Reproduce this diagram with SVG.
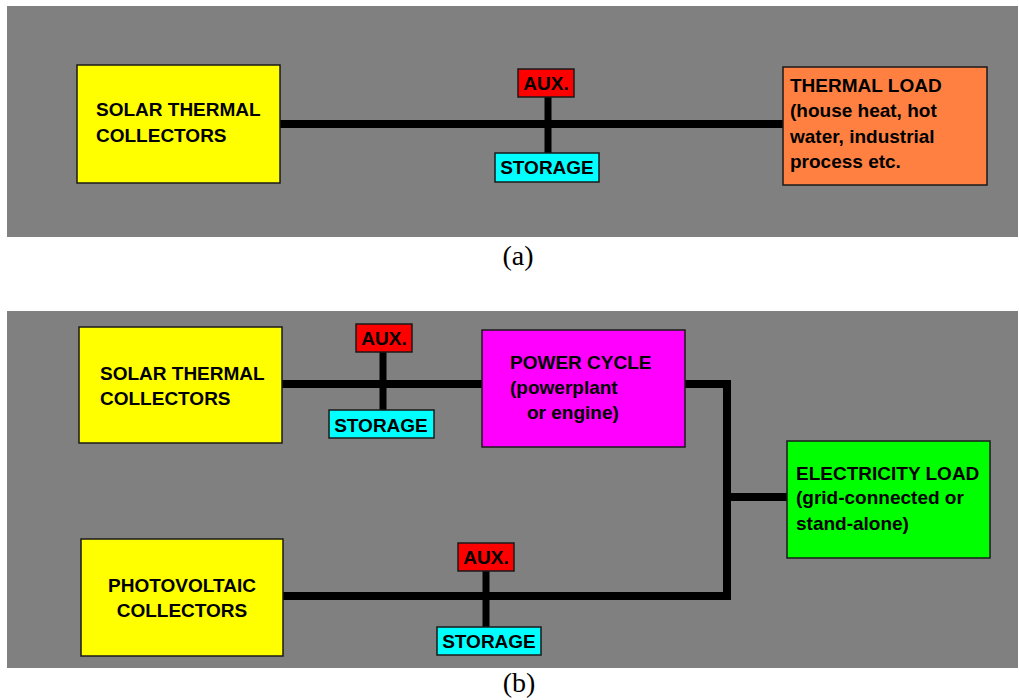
<svg xmlns="http://www.w3.org/2000/svg" width="1019" height="700" viewBox="0 0 1019 700">
  <style>
    .panel { fill: #808080; }
    .box { stroke: #1a1a1a; stroke-width: 1.5; }
    .lbl { font-family: "Liberation Sans", Arial, sans-serif; font-weight: bold; font-size: 19px; fill: #000; }
    .mid { text-anchor: middle; }
    .cap { font-family: "Liberation Serif", "Times New Roman", serif; font-size: 28px; fill: #000; text-anchor: middle; }
    .pipe { fill: none; stroke: #000; stroke-linecap: round; stroke-linejoin: miter; }
    .main { stroke-width: 8; }
    .tap { stroke-width: 7; }
  </style>

  <rect width="1019" height="700" fill="#ffffff"/>

  <!-- panel backgrounds -->
  <rect class="panel" x="7" y="6" width="1011" height="231"/>
  <rect class="panel" x="7" y="311" width="1011" height="357"/>

  <!-- connectors -->
  <g id="connectors">
    <!-- (a) solar thermal to thermal load -->
    <path class="pipe main" d="M280 124 H786"/>
    <path class="pipe tap" d="M548 97 V153"/>
    <!-- (b) solar thermal to power cycle -->
    <path class="pipe main" d="M282 384 H482"/>
    <path class="pipe tap" d="M383 352 V410"/>
    <!-- (b) power cycle and photovoltaic to electricity load -->
    <path class="pipe main" d="M685 384 H727 V596 H283"/>
    <path class="pipe main" d="M727 497 H787"/>
    <path class="pipe tap" d="M486 571 V627"/>
  </g>

  <!-- (a) nodes -->
  <g id="a-solar-thermal">
    <rect class="box" x="77" y="65" width="203" height="118" fill="#ffff00"/>
    <text class="lbl" x="96" y="116">SOLAR THERMAL</text>
    <text class="lbl" x="96" y="142">COLLECTORS</text>
  </g>
  <g id="a-aux">
    <rect class="box" x="518" y="69" width="56" height="28" fill="#ff0000"/>
    <text class="lbl mid" x="546" y="90">AUX.</text>
  </g>
  <g id="a-storage">
    <rect class="box" x="495" y="153" width="104" height="29" fill="#00ffff"/>
    <text class="lbl mid" x="547" y="174">STORAGE</text>
  </g>
  <g id="a-thermal-load">
    <rect class="box" x="783" y="67" width="204" height="118" fill="#ff8040"/>
    <text class="lbl" x="790" y="92">THERMAL LOAD</text>
    <text class="lbl" x="790" y="117">(house heat, hot</text>
    <text class="lbl" x="790" y="143">water, industrial</text>
    <text class="lbl" x="790" y="168">process etc.</text>
  </g>

  <!-- (b) nodes -->
  <g id="b-solar-thermal">
    <rect class="box" x="79" y="327" width="203" height="116" fill="#ffff00"/>
    <text class="lbl" x="100" y="380">SOLAR THERMAL</text>
    <text class="lbl" x="100" y="405">COLLECTORS</text>
  </g>
  <g id="b-aux-thermal">
    <rect class="box" x="356" y="324" width="56" height="28" fill="#ff0000"/>
    <text class="lbl mid" x="384" y="345">AUX.</text>
  </g>
  <g id="b-storage-thermal">
    <rect class="box" x="329" y="410" width="105" height="28" fill="#00ffff"/>
    <text class="lbl mid" x="381" y="432">STORAGE</text>
  </g>
  <g id="b-power-cycle">
    <rect class="box" x="482" y="330" width="203" height="117" fill="#ff00ff"/>
    <text class="lbl" x="510" y="369">POWER CYCLE</text>
    <text class="lbl" x="510" y="394">(powerplant</text>
    <text class="lbl" x="527" y="419">or engine)</text>
  </g>
  <g id="b-electricity-load">
    <rect class="box" x="787" y="441" width="203" height="117" fill="#00ff00"/>
    <text class="lbl" x="796" y="480">ELECTRICITY LOAD</text>
    <text class="lbl" x="796" y="504">(grid-connected or</text>
    <text class="lbl" x="796" y="530">stand-alone)</text>
  </g>
  <g id="b-photovoltaic">
    <rect class="box" x="81" y="539" width="202" height="117" fill="#ffff00"/>
    <text class="lbl mid" x="182" y="592">PHOTOVOLTAIC</text>
    <text class="lbl mid" x="182" y="617">COLLECTORS</text>
  </g>
  <g id="b-aux-pv">
    <rect class="box" x="458" y="543" width="56" height="28" fill="#ff0000"/>
    <text class="lbl mid" x="486" y="564">AUX.</text>
  </g>
  <g id="b-storage-pv">
    <rect class="box" x="437" y="627" width="104" height="28" fill="#00ffff"/>
    <text class="lbl mid" x="489" y="648">STORAGE</text>
  </g>

  <!-- captions -->
  <text class="cap" x="518" y="265">(a)</text>
  <text class="cap" x="519" y="692">(b)</text>
</svg>
